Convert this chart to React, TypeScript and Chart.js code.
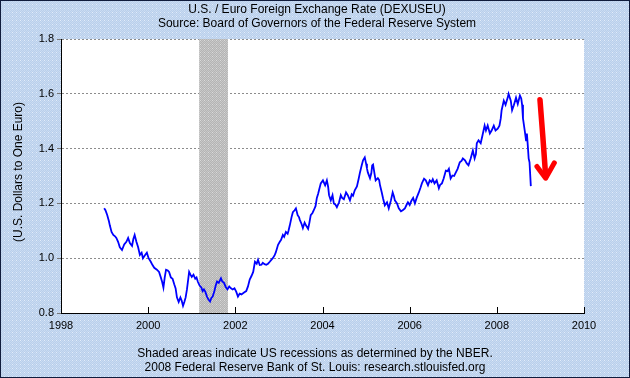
import React, { useEffect, useRef } from "react";
import { Chart, registerables } from "chart.js";

Chart.register(...registerables);

const titleLines = [
  "U.S. / Euro Foreign Exchange Rate (DEXUSEU)",
  "Source: Board of Governors of the Federal Reserve System",
];
const footerLines = [
  "Shaded areas indicate US recessions as determined by the NBER.",
  "2008 Federal Reserve Bank of St. Louis: research.stlouisfed.org",
];
const yAxisTitle = "(U.S. Dollars to One Euro)";
const xTicks = [1998, 2000, 2002, 2004, 2006, 2008, 2010];
const yTicks = [0.8, 1.0, 1.2, 1.4, 1.6, 1.8];
const recessionStart = 2001.17;
const recessionEnd = 2001.83;

const dates = [
  1998.99, 1999.02, 1999.06, 1999.1, 1999.12, 1999.16, 1999.2, 1999.24, 1999.27, 1999.31,
  1999.35, 1999.4, 1999.45, 1999.5, 1999.54, 1999.58, 1999.63, 1999.66, 1999.69, 1999.73,
  1999.77, 1999.81, 1999.85, 1999.88, 1999.93, 1999.97, 2000.01, 2000.06, 2000.1, 2000.14,
  2000.2, 2000.25, 2000.29, 2000.32, 2000.35, 2000.38, 2000.41, 2000.45, 2000.48, 2000.52,
  2000.56, 2000.6, 2000.63, 2000.66, 2000.7, 2000.74, 2000.77, 2000.8, 2000.83, 2000.86,
  2000.89, 2000.94, 2000.97, 2001.0, 2001.04, 2001.08, 2001.11, 2001.14, 2001.18, 2001.22,
  2001.25, 2001.28, 2001.31, 2001.35, 2001.38, 2001.42, 2001.45, 2001.48, 2001.52, 2001.55,
  2001.58, 2001.62, 2001.67, 2001.7, 2001.74, 2001.78, 2001.82, 2001.86, 2001.9, 2001.94,
  2001.98, 2002.02, 2002.06, 2002.1, 2002.14, 2002.2, 2002.25, 2002.29, 2002.33, 2002.37,
  2002.41, 2002.45, 2002.49, 2002.52, 2002.56, 2002.6, 2002.63, 2002.67, 2002.71, 2002.75,
  2002.79, 2002.83, 2002.86, 2002.9, 2002.93, 2002.98, 2003.02, 2003.05, 2003.09, 2003.12,
  2003.16, 2003.2, 2003.22, 2003.25, 2003.29, 2003.32, 2003.36, 2003.39, 2003.43, 2003.46,
  2003.48, 2003.52, 2003.55, 2003.59, 2003.62, 2003.67, 2003.7, 2003.73, 2003.77, 2003.8,
  2003.84, 2003.87, 2003.9, 2003.92, 2003.96, 2004.01, 2004.06, 2004.1, 2004.13, 2004.15,
  2004.19, 2004.23, 2004.26, 2004.3, 2004.33, 2004.38, 2004.42, 2004.45, 2004.49, 2004.54,
  2004.58, 2004.63, 2004.67, 2004.7, 2004.74, 2004.79, 2004.83, 2004.86, 2004.9, 2004.93,
  2004.97, 2005.0, 2005.02, 2005.04, 2005.09, 2005.12, 2005.14, 2005.16, 2005.2, 2005.22,
  2005.27, 2005.3, 2005.32, 2005.36, 2005.39, 2005.43, 2005.48, 2005.52, 2005.57, 2005.61,
  2005.64, 2005.66, 2005.71, 2005.75, 2005.8, 2005.84, 2005.89, 2005.93, 2005.96, 2006.0,
  2006.04, 2006.08, 2006.12, 2006.16, 2006.21, 2006.25, 2006.28, 2006.33, 2006.37, 2006.42,
  2006.46, 2006.5, 2006.53, 2006.57, 2006.62, 2006.67, 2006.7, 2006.74, 2006.78, 2006.83,
  2006.87, 2006.9, 2006.94, 2006.98, 2007.02, 2007.06, 2007.1, 2007.15, 2007.19, 2007.22,
  2007.27, 2007.31, 2007.35, 2007.4, 2007.45, 2007.49, 2007.52, 2007.54, 2007.58, 2007.63,
  2007.67, 2007.72, 2007.75, 2007.79, 2007.84, 2007.88, 2007.93, 2007.97, 2008.02, 2008.06,
  2008.09, 2008.11, 2008.16, 2008.2, 2008.25, 2008.27, 2008.32, 2008.35, 2008.39, 2008.44,
  2008.48, 2008.53, 2008.56, 2008.58, 2008.6, 2008.64, 2008.67, 2008.69, 2008.71, 2008.73,
  2008.75, 2008.78,
];

const rates = [
  1.182, 1.175, 1.158, 1.135, 1.12, 1.096, 1.085, 1.08, 1.074, 1.06,
  1.04, 1.03, 1.05, 1.06, 1.074, 1.055, 1.045, 1.07, 1.085, 1.06,
  1.04, 1.012, 1.02, 1.0, 1.012, 1.02, 1.0, 0.987, 0.975, 0.965,
  0.958, 0.95, 0.93, 0.914, 0.893, 0.93, 0.958, 0.955, 0.95, 0.93,
  0.925, 0.904, 0.89, 0.857, 0.84, 0.857, 0.845, 0.826, 0.84, 0.857,
  0.886, 0.95, 0.94, 0.932, 0.94, 0.925, 0.93, 0.914, 0.9, 0.893,
  0.88, 0.886, 0.878, 0.86, 0.85, 0.842, 0.855, 0.86, 0.88, 0.9,
  0.915, 0.91, 0.927, 0.915, 0.91, 0.895, 0.886, 0.897, 0.89, 0.886,
  0.89, 0.878, 0.86, 0.871, 0.868, 0.875, 0.88, 0.897, 0.922, 0.935,
  0.95, 0.987, 0.98, 0.994, 0.975, 0.976, 0.983, 0.978, 0.976, 0.98,
  0.987, 0.995, 1.0, 1.01, 1.022, 1.049, 1.06, 1.067, 1.085, 1.078,
  1.096, 1.089, 1.1, 1.12, 1.15, 1.168, 1.175, 1.182, 1.157, 1.15,
  1.14, 1.125, 1.11, 1.13, 1.12, 1.107, 1.13, 1.157, 1.165, 1.175,
  1.19, 1.22, 1.235, 1.248, 1.273, 1.284, 1.266, 1.284, 1.26, 1.23,
  1.211, 1.23, 1.2, 1.195, 1.186, 1.204, 1.23, 1.22, 1.215, 1.24,
  1.23, 1.211, 1.233, 1.228, 1.248, 1.262, 1.29, 1.313, 1.339, 1.357,
  1.368, 1.345, 1.328, 1.313, 1.292, 1.31, 1.339, 1.342, 1.302, 1.284,
  1.292, 1.285, 1.266, 1.24, 1.218, 1.193, 1.204, 1.182, 1.211, 1.24,
  1.225, 1.211, 1.2, 1.182, 1.171, 1.175, 1.182, 1.195, 1.204, 1.194,
  1.21, 1.22, 1.2, 1.22, 1.24, 1.258, 1.273, 1.29, 1.284, 1.266,
  1.284, 1.278, 1.288, 1.273, 1.284, 1.255, 1.268, 1.273, 1.291, 1.32,
  1.318, 1.326, 1.291, 1.302, 1.3, 1.313, 1.326, 1.35, 1.355, 1.364,
  1.357, 1.346, 1.339, 1.364, 1.393, 1.364, 1.38, 1.419, 1.43, 1.42,
  1.448, 1.484, 1.466, 1.484, 1.455, 1.466, 1.484, 1.466, 1.473, 1.484,
  1.51, 1.54, 1.575, 1.56, 1.586, 1.6, 1.575, 1.54, 1.558, 1.586,
  1.563, 1.594, 1.583, 1.56, 1.51, 1.466, 1.43, 1.455, 1.412, 1.364,
  1.35, 1.263,
];

// Annotation arrow in data units (year, rate)
const arrowShaft = [
  [2008.99, 1.578],
  [2009.06, 1.44],
  [2009.12, 1.3],
];
const arrowHead = [
  [2008.92, 1.335],
  [2009.12, 1.292],
  [2009.32, 1.348],
];

const FONT = "'Liberation Sans', Arial, sans-serif";

function makePattern(ctx: CanvasRenderingContext2D, c1: string, c2: string, dot?: string) {
  const p = document.createElement("canvas");
  p.width = 4;
  p.height = 4;
  const g = p.getContext("2d")!;
  g.fillStyle = c1;
  g.fillRect(0, 0, 4, 4);
  g.fillStyle = c2;
  for (let i = 0; i < 4; i++) for (let j = 0; j < 4; j++) if ((i + j) % 2 === 0) g.fillRect(i, j, 1, 1);
  if (dot) {
    g.fillStyle = dot;
    g.fillRect(0, 0, 1, 1);
  }
  return ctx.createPattern(p, "repeat")!;
}

const decorPlugin = {
  id: "decor",
  beforeDraw(chart: any) {
    const { ctx, chartArea, width, height } = chart;
    ctx.save();
    ctx.fillStyle = makePattern(ctx, "#B9CFEB", "#C9DBF2", "#E2ECFA");
    ctx.fillRect(0, 0, width, height);
    ctx.fillStyle = "#FFFFFF";
    ctx.fillRect(chartArea.left, chartArea.top, chartArea.right - chartArea.left, chartArea.bottom - chartArea.top);
    ctx.restore();
  },
  beforeDatasetsDraw(chart: any) {
    const { ctx, chartArea, scales } = chart;
    const x0 = scales.x.getPixelForValue(recessionStart);
    const x1 = scales.x.getPixelForValue(recessionEnd);
    ctx.save();
    ctx.fillStyle = makePattern(ctx, "#B4B4B4", "#C8C8C8", "#DADADA");
    ctx.fillRect(x0, chartArea.top, x1 - x0, chartArea.bottom - chartArea.top);
    ctx.restore();
  },
  afterDatasetsDraw(chart: any) {
    const { ctx, chartArea, scales } = chart;
    ctx.save();
    ctx.strokeStyle = "#000";
    ctx.lineWidth = 1;
    xTicks.forEach((t) => {
      const px = Math.round(scales.x.getPixelForValue(t)) + 0.5;
      ctx.beginPath();
      ctx.moveTo(px, chartArea.bottom);
      ctx.lineTo(px, chartArea.bottom - 6);
      ctx.stroke();
    });
    const P = (p: number[]) => [scales.x.getPixelForValue(p[0]), scales.y.getPixelForValue(p[1])];
    ctx.strokeStyle = "#FF0000";
    ctx.lineCap = "round";
    ctx.lineJoin = "round";
    const s = arrowShaft.map(P);
    ctx.lineWidth = 5.5;
    ctx.beginPath();
    ctx.moveTo(s[0][0], s[0][1]);
    ctx.quadraticCurveTo(s[1][0], s[1][1], s[2][0], s[2][1]);
    ctx.stroke();
    const h = arrowHead.map(P);
    ctx.lineWidth = 5;
    ctx.beginPath();
    ctx.moveTo(h[0][0], h[0][1]);
    ctx.lineTo(h[1][0], h[1][1]);
    ctx.lineTo(h[2][0], h[2][1]);
    ctx.stroke();
    ctx.restore();
  },
  afterDraw(chart: any) {
    const { ctx, width, height, chartArea } = chart;
    ctx.save();
    ctx.fillStyle = "#000";
    ctx.font = `12px ${FONT}`;
    ctx.textAlign = "center";
    ctx.textBaseline = "middle";
    ctx.fillText(titleLines[0], width / 2 + 2, 10);
    ctx.fillText(titleLines[1], width / 2 + 2, 24);
    ctx.fillText(footerLines[0], width / 2, 354);
    ctx.fillText(footerLines[1], width / 2, 368);
    ctx.translate(19, (chartArea.top + chartArea.bottom) / 2 - 4);
    ctx.rotate(-Math.PI / 2);
    ctx.fillText(yAxisTitle, 0, 0);
    ctx.restore();
    ctx.save();
    ctx.strokeStyle = "#101C3C";
    ctx.lineWidth = 1;
    ctx.strokeRect(0.5, 0.5, width - 1, height - 1);
    ctx.restore();
  },
};

export default function App() {
  const ref = useRef<HTMLCanvasElement>(null);
  useEffect(() => {
    document.body.style.margin = "0";
    const canvas = ref.current!;
    const chart = new Chart(canvas, {
      type: "line",
      data: {
        datasets: [
          {
            data: dates.map((d, i) => ({ x: d, y: rates[i] })),
            borderColor: "#0000FF",
            borderWidth: 1.8,
            pointRadius: 0,
            tension: 0,
            fill: false,
          },
        ],
      },
      options: {
        animation: false,
        responsive: false,
        devicePixelRatio: 1,
        layout: { padding: { left: 0, right: 46, top: 39, bottom: 0 } },
        plugins: { legend: { display: false }, tooltip: { enabled: false }, title: { display: false } },
        scales: {
          x: {
            type: "linear",
            min: 1998,
            max: 2010,
            afterBuildTicks: (scale: any) => {
              scale.ticks = xTicks.map((v) => ({ value: v }));
            },
            afterFit: (scale: any) => {
              scale.height = 65;
            },
            ticks: {
              callback: (v: any) => String(v),
              font: { family: FONT, size: 11 },
              color: "#000",
              padding: 4,
              maxRotation: 0,
              autoSkip: false,
            },
            grid: { drawOnChartArea: false, drawTicks: true, tickLength: 2, tickColor: "rgba(0,0,0,0)" },
            border: { display: true, color: "#000", width: 1 },
          },
          y: {
            min: 0.8,
            max: 1.8,
            afterBuildTicks: (scale: any) => {
              scale.ticks = yTicks.map((v) => ({ value: v }));
            },
            afterFit: (scale: any) => {
              scale.width = 61;
            },
            ticks: {
              callback: (v: any) => Number(v).toFixed(1),
              font: { family: FONT, size: 11 },
              color: "#000",
              padding: 3,
            },
            grid: {
              color: "#8C8C8C",
              lineWidth: 1,
              tickLength: 4,
              tickColor: "#777",
              tickBorderDash: [],
            },
            border: { display: true, color: "#000", width: 1, dash: [2, 2] },
          },
        },
      },
      plugins: [decorPlugin],
    } as any);
    return () => chart.destroy();
  }, []);
  return (
    <div style={{ width: 630, height: 378 }}>
      <canvas ref={ref} width={630} height={378} style={{ display: "block" }} />
    </div>
  );
}
